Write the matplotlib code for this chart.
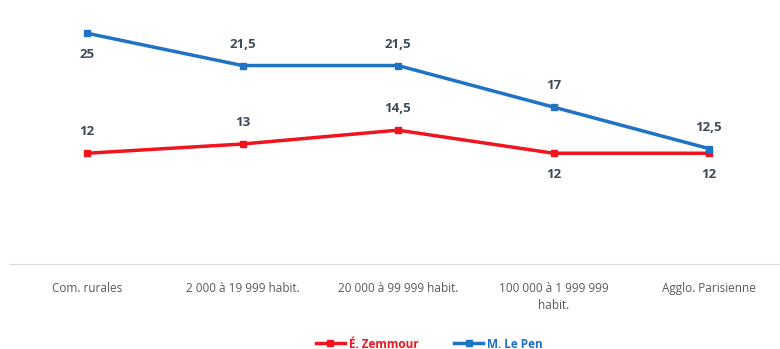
import matplotlib

matplotlib.use("Agg")
import matplotlib.pyplot as plt  # noqa: E402

categories = [
    "Com. rurales",
    "2 000 à 19 999 habit.",
    "20 000 à 99 999 habit.",
    "100 000 à 1 999 999\nhabit.",
    "Agglo. Parisienne",
]
zemmour = [12, 13, 14.5, 12, 12]
lepen = [25, 21.5, 21.5, 17, 12.5]
zemmour_labels = ["12", "13", "14,5", "12", "12"]
lepen_labels = ["25", "21,5", "21,5", "17", "12,5"]
# label placement: +1 above the point, -1 below
zemmour_pos = [1, 1, 1, -1, -1]
lepen_pos = [-1, 1, 1, 1, 1]

RED = "#F0141E"
BLUE = "#1F72C4"
LABEL_COLOR = "#3E4A59"

plt.rcParams["font.family"] = ["Open Sans", "DejaVu Sans"]

fig = plt.figure(figsize=(7.8, 3.49), dpi=100)
# axes from pixel x=10 to 780, y baseline at pixel 264, top at pixel 5
ax = fig.add_axes([10 / 780, (349 - 264) / 349, 770 / 780, (264 - 5) / 349])

x = list(range(len(categories)))
ax.plot(x, zemmour, color=RED, lw=2.5, marker="s", ms=5, label="É. Zemmour",
        clip_on=False, zorder=3)
ax.plot(x, lepen, color=BLUE, lw=2.5, marker="s", ms=5, label="M. Le Pen",
        clip_on=False, zorder=3)

for xs, ys, labs, pos in [(x, zemmour, zemmour_labels, zemmour_pos),
                          (x, lepen, lepen_labels, lepen_pos)]:
    for xi, yi, lab, p in zip(xs, ys, labs, pos):
        ax.annotate(lab, (xi, yi), xytext=(0, 15.5 * p), textcoords="offset points",
                    ha="center", va="center", fontsize=9.5, fontweight="bold",
                    color=LABEL_COLOR)

ax.set_xlim(-77 / 155.5, (780 - 87) / 155.5)
ax.set_ylim(0, (264 - 5) / 9.23)
ax.set_xticks(x)
ax.set_xticklabels(categories, fontsize=8.5, color="#595959", linespacing=1.4)
ax.tick_params(axis="x", length=0, pad=13)
ax.set_yticks([])
for side in ["top", "left", "right"]:
    ax.spines[side].set_visible(False)
ax.spines["bottom"].set_color("#D9D9D9")
ax.spines["bottom"].set_linewidth(0.8)

leg = fig.legend(loc="center", bbox_to_anchor=(0.55, 5 / 349), ncol=2,
                 frameon=False, fontsize=8.5, handlelength=2.5,
                 columnspacing=3, handletextpad=0.3)
for txt, c in zip(leg.get_texts(), [RED, BLUE]):
    txt.set_color(c)
    txt.set_fontweight("bold")

fig.savefig("out.png", dpi=100)
